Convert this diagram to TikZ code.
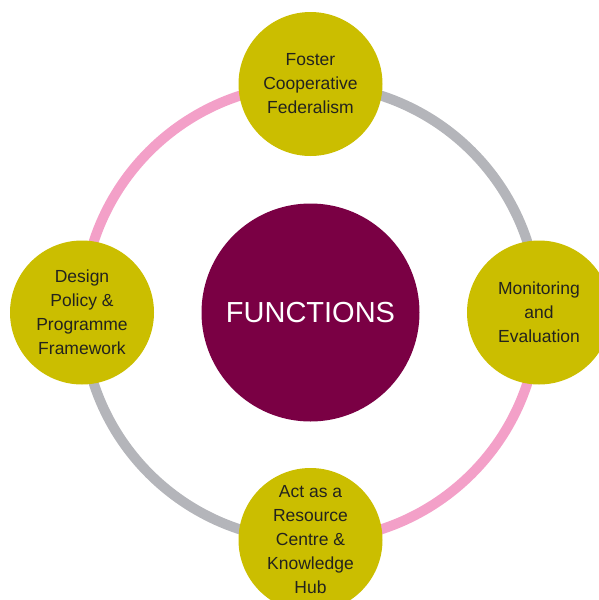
\documentclass[tikz,border=0pt]{standalone}
\usepackage{fontspec}
\setmainfont{Liberation Sans}
\definecolor{olive}{RGB}{203,190,0}
\definecolor{maroon}{RGB}{122,0,68}
\definecolor{ringpink}{RGB}{243,160,200}
\definecolor{ringgray}{RGB}{180,181,186}
\definecolor{txt}{RGB}{35,35,30}
\tikzset{
  fn/.style={circle, fill=olive, minimum size=144pt, inner sep=0pt, align=center,
    text=txt, font=\fontsize{17.5}{24}\selectfont},
  ringarc/.style={line width=10pt},
}
\begin{document}
\begin{tikzpicture}[x=1pt,y=-1pt]
\useasboundingbox (0,0) rectangle (599,600);
\clip (0,0) rectangle (599,600);
\coordinate (c) at (310.5,312.5);
% y axis points down: 90 = down, 270 = up
\draw[ringarc, ringpink] (c) ++(180:228) arc[start angle=180, end angle=270, radius=228];
\draw[ringarc, ringgray] (c) ++(270:228) arc[start angle=270, end angle=360, radius=228];
\draw[ringarc, ringgray] (c) ++(180:228) arc[start angle=180, end angle=90, radius=228];
\draw[ringarc, ringpink] (c) ++(90:228) arc[start angle=90, end angle=0, radius=228];
\node[circle, fill=maroon, minimum size=218pt, inner sep=0pt, text=white,
  font=\fontsize{29}{34}\selectfont] (center) at (c) {FUNCTIONS};
\node[fn] (top) at (310.5,84) {Foster\\Cooperative\\Federalism};
\node[fn] (left) at (82,312.5) {Design\\Policy \&\\Programme\\Framework};
\node[fn] (right) at (539,312.5) {Monitoring\\and\\Evaluation};
\node[fn] (bottom) at (310.5,540) {Act as a\\Resource\\Centre \&\\Knowledge\\Hub};
\end{tikzpicture}
\end{document}
